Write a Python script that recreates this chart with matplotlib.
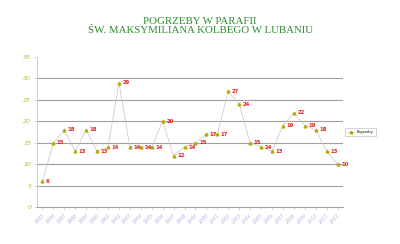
import matplotlib.pyplot as plt

years = [str(y) for y in range(1985, 2013)]
burials = [6, 15, 18, 13, 18, 13, 14, 29, 14, 14, 14, 20, 12, 14,
           15, 17, 17, 27, 24, 15, 14, 13, 19, 22, 19, 18, 13, 10]
title = 'POGRZEBY W PARAFII\nŚW. MAKSYMILIANA KOLBEGO W LUBANIU'
series_name = 'Pogrzeby'

fig = plt.figure(figsize=(4.0, 2.44), dpi=100)
ax = fig.add_axes([0.0925, 0.1516, 0.765, 0.6148])

x = list(range(len(burials)))
ax.plot(x, burials, color='#c4c4c4', linewidth=0.5, marker='^',
        markersize=2, markerfacecolor='#c8b400', markeredgecolor='#b8a800',
        label=series_name, zorder=3)

for xi, yi in zip(x, burials):
    ax.annotate(str(yi), (xi, yi), xytext=(2.5, 0), textcoords='offset points',
                color='#e02020', fontsize=3.8, fontweight='bold', va='center',
                ha='left')

ax.set_ylim(0, 35)
ax.set_xlim(-0.5, len(burials) - 0.5)
ax.set_yticks(range(0, 40, 5))
ax.set_xticks(x)
ax.set_xticklabels(years, rotation=45, ha='right', rotation_mode='anchor',
                   fontsize=3.3, color='#c0b0ea', style='italic')
for t in ax.get_yticklabels():
    t.set_color('#9ccc2c')
    t.set_fontsize(4.5)
    t.set_style('italic')

for v in range(5, 35, 5):
    ax.axhline(v, color='#a0a0a0', linewidth=0.8, zorder=1)

for s in ['top', 'right']:
    ax.spines[s].set_visible(False)
ax.spines['left'].set_color('#c8c8c8')
ax.spines['left'].set_linewidth(0.6)
ax.spines['bottom'].set_color('#a0a0a0')
ax.spines['bottom'].set_linewidth(0.8)
ax.tick_params(axis='both', length=2, width=0.4, color='#c0c0c0', pad=2)

fig.text(0.5, 0.893, title, ha='center', va='center', color='#2e8b2e',
         fontsize=7.8, family='Liberation Serif', linespacing=1.1)

leg = ax.legend(loc='center left', bbox_to_anchor=(1.0, 0.5), fontsize=2.6,
                frameon=True, fancybox=False, handlelength=2.0,
                borderpad=0.6, edgecolor='#b0b0b0')
leg.get_frame().set_linewidth(0.5)

fig.savefig('out.png', dpi=100, facecolor='white')
